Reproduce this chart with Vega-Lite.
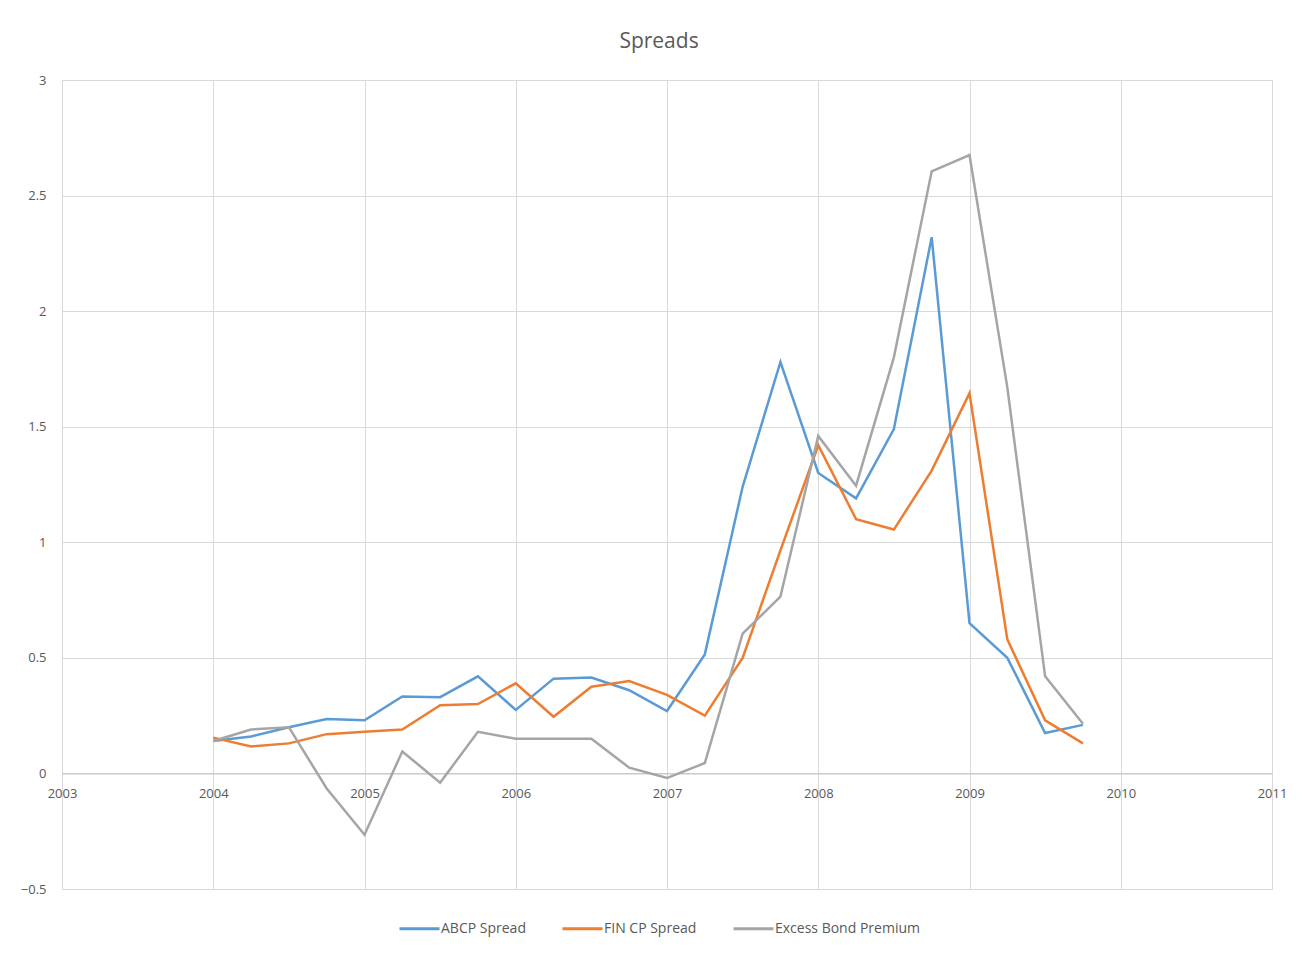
{
  "$schema": "https://vega.github.io/schema/vega-lite/v6.json",
  "autosize": "none",
  "width": 1210,
  "height": 809,
  "padding": {"left": 62, "top": 80, "right": 38, "bottom": 65},
  "background": "white",
  "title": {"text": "Spreads", "fontSize": 21, "font": "Open Sans", "fontWeight": "normal", "color": "#595959", "offset": 22, "dx": -8},
  "config": {
    "view": {"stroke": null},
    "font": "Open Sans",
    "axis": {"labelFont": "Open Sans", "labelColor": "#595959", "labelFontSize": 13, "gridColor": "#d9d9d9", "gridWidth": 1, "ticks": false, "title": null, "labelFlush": false}
  },
  "data": {
    "values": [
      {"date": 2004.0, "series": "ABCP Spread", "value": 0.14},
      {"date": 2004.25, "series": "ABCP Spread", "value": 0.16},
      {"date": 2004.5, "series": "ABCP Spread", "value": 0.2},
      {"date": 2004.75, "series": "ABCP Spread", "value": 0.235},
      {"date": 2005.0, "series": "ABCP Spread", "value": 0.23},
      {"date": 2005.25, "series": "ABCP Spread", "value": 0.333},
      {"date": 2005.5, "series": "ABCP Spread", "value": 0.33},
      {"date": 2005.75, "series": "ABCP Spread", "value": 0.42},
      {"date": 2006.0, "series": "ABCP Spread", "value": 0.275},
      {"date": 2006.25, "series": "ABCP Spread", "value": 0.41},
      {"date": 2006.5, "series": "ABCP Spread", "value": 0.415},
      {"date": 2006.75, "series": "ABCP Spread", "value": 0.36},
      {"date": 2007.0, "series": "ABCP Spread", "value": 0.27},
      {"date": 2007.25, "series": "ABCP Spread", "value": 0.515},
      {"date": 2007.5, "series": "ABCP Spread", "value": 1.24},
      {"date": 2007.75, "series": "ABCP Spread", "value": 1.78},
      {"date": 2008.0, "series": "ABCP Spread", "value": 1.3},
      {"date": 2008.25, "series": "ABCP Spread", "value": 1.19},
      {"date": 2008.5, "series": "ABCP Spread", "value": 1.49},
      {"date": 2008.75, "series": "ABCP Spread", "value": 2.32},
      {"date": 2009.0, "series": "ABCP Spread", "value": 0.65},
      {"date": 2009.25, "series": "ABCP Spread", "value": 0.5},
      {"date": 2009.5, "series": "ABCP Spread", "value": 0.175},
      {"date": 2009.75, "series": "ABCP Spread", "value": 0.21},
      {"date": 2004.0, "series": "FIN CP Spread", "value": 0.155},
      {"date": 2004.25, "series": "FIN CP Spread", "value": 0.117},
      {"date": 2004.5, "series": "FIN CP Spread", "value": 0.13},
      {"date": 2004.75, "series": "FIN CP Spread", "value": 0.17},
      {"date": 2005.0, "series": "FIN CP Spread", "value": 0.18},
      {"date": 2005.25, "series": "FIN CP Spread", "value": 0.19},
      {"date": 2005.5, "series": "FIN CP Spread", "value": 0.295},
      {"date": 2005.75, "series": "FIN CP Spread", "value": 0.3},
      {"date": 2006.0, "series": "FIN CP Spread", "value": 0.39},
      {"date": 2006.25, "series": "FIN CP Spread", "value": 0.245},
      {"date": 2006.5, "series": "FIN CP Spread", "value": 0.375},
      {"date": 2006.75, "series": "FIN CP Spread", "value": 0.4},
      {"date": 2007.0, "series": "FIN CP Spread", "value": 0.34},
      {"date": 2007.25, "series": "FIN CP Spread", "value": 0.25},
      {"date": 2007.5, "series": "FIN CP Spread", "value": 0.5},
      {"date": 2007.75, "series": "FIN CP Spread", "value": 0.965},
      {"date": 2008.0, "series": "FIN CP Spread", "value": 1.42},
      {"date": 2008.25, "series": "FIN CP Spread", "value": 1.1},
      {"date": 2008.5, "series": "FIN CP Spread", "value": 1.055},
      {"date": 2008.75, "series": "FIN CP Spread", "value": 1.31},
      {"date": 2009.0, "series": "FIN CP Spread", "value": 1.645},
      {"date": 2009.25, "series": "FIN CP Spread", "value": 0.58},
      {"date": 2009.5, "series": "FIN CP Spread", "value": 0.23},
      {"date": 2009.75, "series": "FIN CP Spread", "value": 0.13},
      {"date": 2004.0, "series": "Excess Bond Premium", "value": 0.14},
      {"date": 2004.25, "series": "Excess Bond Premium", "value": 0.19},
      {"date": 2004.5, "series": "Excess Bond Premium", "value": 0.2},
      {"date": 2004.75, "series": "Excess Bond Premium", "value": -0.065},
      {"date": 2005.0, "series": "Excess Bond Premium", "value": -0.265},
      {"date": 2005.25, "series": "Excess Bond Premium", "value": 0.095},
      {"date": 2005.5, "series": "Excess Bond Premium", "value": -0.04},
      {"date": 2005.75, "series": "Excess Bond Premium", "value": 0.18},
      {"date": 2006.0, "series": "Excess Bond Premium", "value": 0.15},
      {"date": 2006.25, "series": "Excess Bond Premium", "value": 0.15},
      {"date": 2006.5, "series": "Excess Bond Premium", "value": 0.15},
      {"date": 2006.75, "series": "Excess Bond Premium", "value": 0.025},
      {"date": 2007.0, "series": "Excess Bond Premium", "value": -0.02},
      {"date": 2007.25, "series": "Excess Bond Premium", "value": 0.045},
      {"date": 2007.5, "series": "Excess Bond Premium", "value": 0.605},
      {"date": 2007.75, "series": "Excess Bond Premium", "value": 0.765},
      {"date": 2008.0, "series": "Excess Bond Premium", "value": 1.46},
      {"date": 2008.25, "series": "Excess Bond Premium", "value": 1.245},
      {"date": 2008.5, "series": "Excess Bond Premium", "value": 1.8},
      {"date": 2008.75, "series": "Excess Bond Premium", "value": 2.605},
      {"date": 2009.0, "series": "Excess Bond Premium", "value": 2.675},
      {"date": 2009.25, "series": "Excess Bond Premium", "value": 1.67},
      {"date": 2009.5, "series": "Excess Bond Premium", "value": 0.42},
      {"date": 2009.75, "series": "Excess Bond Premium", "value": 0.215}
    ]
  },
  "mark": {"type": "line", "strokeWidth": 2.5, "strokeJoin": "miter"},
  "encoding": {
    "x": {
      "field": "date", "type": "quantitative",
      "scale": {"domain": [2003, 2011], "nice": false, "zero": false},
      "axis": {"values": [2003, 2004, 2005, 2006, 2007, 2008, 2009, 2010, 2011], "format": "d", "offset": -115.57, "domainColor": "#bfbfbf", "domainWidth": 1, "labelPadding": 14, "labelFlush": false, "grid": true}
    },
    "y": {
      "field": "value", "type": "quantitative",
      "scale": {"domain": [-0.5, 3], "nice": false, "zero": false},
      "axis": {"values": [-0.5, 0, 0.5, 1, 1.5, 2, 2.5, 3], "format": "~g", "domain": false, "labelPadding": 16, "labelFlush": false, "grid": true}
    },
    "color": {
      "field": "series", "type": "nominal",
      "scale": {"domain": ["ABCP Spread", "FIN CP Spread", "Excess Bond Premium"], "range": ["#5b9bd5", "#ed7d31", "#a5a5a5"]},
      "legend": {"title": null, "orient": "none", "direction": "horizontal", "legendX": 336, "legendY": 827, "symbolType": "stroke", "symbolSize": 1600, "symbolStrokeWidth": 3, "labelFontSize": 14, "labelColor": "#595959", "labelOffset": 0, "columnPadding": 30, "labelFont": "Open Sans"}
    }
  }
}
